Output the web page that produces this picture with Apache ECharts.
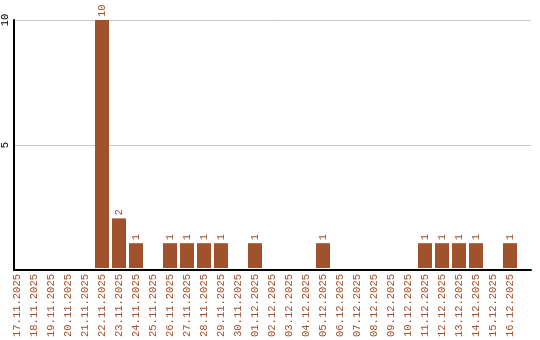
<!DOCTYPE html>
<html><head><meta charset="utf-8">
<script src="https://cdn.jsdelivr.net/npm/echarts@6/dist/echarts.min.js"></script>
<style>html,body{margin:0;padding:0;background:#fff}#c{width:540px;height:340px}</style>
</head><body><div id="c"></div>
<script>
const categories = ["17.11.2025","18.11.2025","19.11.2025","20.11.2025","21.11.2025","22.11.2025","23.11.2025","24.11.2025","25.11.2025","26.11.2025","27.11.2025","28.11.2025","29.11.2025","30.11.2025","01.12.2025","02.12.2025","03.12.2025","04.12.2025","05.12.2025","06.12.2025","07.12.2025","08.12.2025","09.12.2025","10.12.2025","11.12.2025","12.12.2025","13.12.2025","14.12.2025","15.12.2025","16.12.2025"];
const counts = [0,0,0,0,0,10,2,1,0,1,1,1,1,0,1,0,0,0,1,0,0,0,0,0,1,1,1,1,0,1];
const yTicks = [0,5,10];

const FONT = "Liberation Mono";
const BROWN = "#A0522D";
const chart = echarts.init(document.getElementById('c'));
chart.setOption({
  animation:false,
  grid:[
    {left:10, right:9, top:20, bottom:70},
    {left:8.5, width:510, top:20, bottom:70}
  ],
  xAxis:[
    {type:'value', gridIndex:0, min:0, max:1, axisLine:{show:true,lineStyle:{color:'#000',width:2}}, axisTick:{show:false}, axisLabel:{show:false}, splitLine:{show:false}},
    {type:'category', gridIndex:1, data:categories, axisLine:{show:false}, axisTick:{show:false},
     axisLabel:{rotate:90, interval:0, margin:6, color:BROWN, fontFamily:FONT, fontSize:10.5}}
  ],
  yAxis:[
    {type:'value', gridIndex:0, min:0, max:10, interval:5,
     axisLine:{show:true,lineStyle:{color:'#000',width:2}}, axisTick:{show:false},
     axisLabel:{rotate:90, margin:3, color:'#000', fontFamily:FONT, fontSize:10.5,
       formatter:v=> (yTicks.indexOf(v)>0 ? String(v) : '')},
     splitLine:{show:true,lineStyle:{color:'#c8c8c8',width:1}}},
    {type:'value', gridIndex:1, min:0, max:10, show:false}
  ],
  series:[{
    type:'bar', xAxisIndex:1, yAxisIndex:1, data:counts, barWidth:14,
    itemStyle:{color:BROWN},
    label:{show:true, position:'top', rotate:90, align:'left', verticalAlign:'middle', distance:3,
      color:BROWN, fontFamily:FONT, fontSize:10.5, formatter:p=> p.value ? String(p.value) : ''}
  }]
});
</script></body></html>
